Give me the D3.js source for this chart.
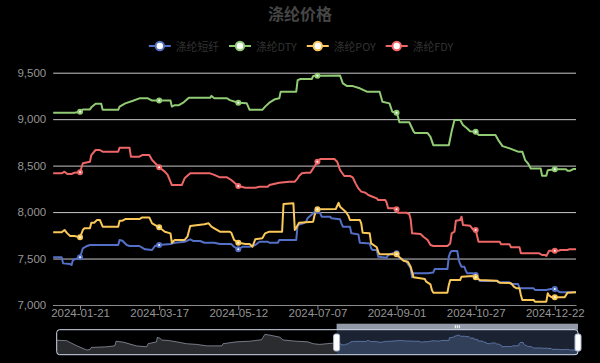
<!DOCTYPE html>
<html>
<head>
<meta charset="utf-8">
<script src="https://cdn.jsdelivr.net/npm/d3@7"></script>
<style>
  body { margin: 0; background: #000; }
  svg { display: block; font-family: "Noto Sans CJK SC", "Noto Sans", sans-serif; }
</style>
</head>
<body>
<svg id="chart" width="600" height="363"></svg>
<script>
// series names and colours, in drawing order
var seriesNames = ["涤纶短纤", "涤纶DTY", "涤纶POY", "涤纶FDY"];
var seriesColors = ["#5470c6", "#91cc75", "#fac858", "#ee6666"];

var xTickLabels = ["2024-01-21", "2024-03-17", "2024-05-12", "2024-07-07", "2024-09-01", "2024-10-27", "2024-12-22"];
var yTicks = [7000, 7500, 8000, 8500, 9000, 9500];

// 涤纶短纤 — price change points [date, price]
var psfPrices = [
  ["2024-01-02", 7513], ["2024-01-08", 7513], ["2024-01-09", 7448], ["2024-01-14", 7441], ["2024-01-15", 7430],
  ["2024-01-16", 7484], ["2024-01-19", 7502], ["2024-01-21", 7513], ["2024-01-23", 7610], ["2024-01-26", 7635],
  ["2024-01-28", 7646], ["2024-02-17", 7646], ["2024-02-18", 7700], ["2024-02-20", 7692], ["2024-02-23", 7646],
  ["2024-02-25", 7635], ["2024-03-03", 7635], ["2024-03-07", 7599], ["2024-03-12", 7592], ["2024-03-14", 7635],
  ["2024-03-17", 7646], ["2024-03-25", 7656], ["2024-03-28", 7670], ["2024-04-04", 7681], ["2024-04-08", 7707],
  ["2024-04-10", 7689], ["2024-04-15", 7689], ["2024-04-18", 7670], ["2024-04-25", 7670], ["2024-04-29", 7656],
  ["2024-05-07", 7656], ["2024-05-09", 7627], ["2024-05-12", 7599], ["2024-05-15", 7627], ["2024-05-20", 7627],
  ["2024-05-24", 7646], ["2024-05-27", 7681], ["2024-06-02", 7681], ["2024-06-03", 7670], ["2024-06-09", 7670],
  ["2024-06-10", 7700], ["2024-06-22", 7700], ["2024-06-23", 7861], ["2024-06-27", 7879], ["2024-06-29", 7897],
  ["2024-06-30", 7933], ["2024-07-04", 7987], ["2024-07-05", 8004], ["2024-07-07", 8015], ["2024-07-09", 7987],
  ["2024-07-10", 7950], ["2024-07-16", 7950], ["2024-07-17", 7933], ["2024-07-23", 7922], ["2024-07-24", 7879],
  ["2024-07-25", 7843], ["2024-07-30", 7843], ["2024-07-31", 7771], ["2024-08-05", 7760], ["2024-08-06", 7670],
  ["2024-08-13", 7663], ["2024-08-14", 7610], ["2024-08-15", 7592], ["2024-08-18", 7592], ["2024-08-19", 7520],
  ["2024-08-25", 7509], ["2024-08-26", 7538], ["2024-08-29", 7556], ["2024-09-01", 7556], ["2024-09-03", 7502],
  ["2024-09-06", 7484], ["2024-09-08", 7466], ["2024-09-11", 7395], ["2024-09-12", 7298], ["2024-09-13", 7341],
  ["2024-09-23", 7341], ["2024-09-27", 7350], ["2024-09-28", 7387], ["2024-10-07", 7387], ["2024-10-08", 7520],
  ["2024-10-09", 7563], ["2024-10-10", 7581], ["2024-10-14", 7581], ["2024-10-15", 7484], ["2024-10-16", 7441],
  ["2024-10-17", 7412], ["2024-10-19", 7412], ["2024-10-20", 7369], ["2024-10-21", 7341], ["2024-10-25", 7341],
  ["2024-10-27", 7323], ["2024-10-29", 7276], ["2024-10-30", 7258], ["2024-11-11", 7258], ["2024-11-12", 7244],
  ["2024-11-20", 7244], ["2024-11-21", 7226], ["2024-11-26", 7226], ["2024-11-27", 7180], ["2024-12-07", 7180],
  ["2024-12-08", 7162], ["2024-12-16", 7162], ["2024-12-19", 7172], ["2024-12-22", 7172], ["2024-12-25", 7143],
  ["2024-12-26", 7137], ["2025-01-06", 7137]
];

// 涤纶DTY
var dtyPrices = [
  ["2024-01-02", 9070], ["2024-01-17", 9070], ["2024-01-21", 9080], ["2024-01-23", 9105], ["2024-01-28", 9105],
  ["2024-01-29", 9127], ["2024-02-01", 9166], ["2024-02-05", 9166], ["2024-02-06", 9100], ["2024-02-17", 9100],
  ["2024-02-18", 9135], ["2024-02-22", 9170], ["2024-02-27", 9195], ["2024-03-03", 9224], ["2024-03-09", 9224],
  ["2024-03-12", 9200], ["2024-03-25", 9200], ["2024-03-26", 9135], ["2024-03-28", 9150], ["2024-03-31", 9150],
  ["2024-04-03", 9177], ["2024-04-07", 9230], ["2024-04-22", 9230], ["2024-04-23", 9250], ["2024-04-25", 9225],
  ["2024-05-04", 9225], ["2024-05-06", 9205], ["2024-05-12", 9177], ["2024-05-18", 9170], ["2024-05-20", 9100],
  ["2024-05-29", 9100], ["2024-05-31", 9135], ["2024-06-03", 9177], ["2024-06-07", 9215], ["2024-06-10", 9224],
  ["2024-06-11", 9296], ["2024-06-22", 9296], ["2024-06-23", 9420], ["2024-06-25", 9432], ["2024-07-03", 9432],
  ["2024-07-04", 9464], ["2024-07-07", 9467], ["2024-07-23", 9470], ["2024-07-25", 9385], ["2024-07-28", 9356],
  ["2024-08-01", 9356], ["2024-08-06", 9332], ["2024-08-11", 9296], ["2024-08-20", 9296], ["2024-08-22", 9188],
  ["2024-08-27", 9170], ["2024-08-29", 9080], ["2024-09-01", 9070], ["2024-09-02", 9026], ["2024-09-03", 8967],
  ["2024-09-10", 8967], ["2024-09-13", 8870], ["2024-09-14", 8850], ["2024-09-23", 8850], ["2024-09-25", 8810],
  ["2024-09-27", 8720], ["2024-10-08", 8720], ["2024-10-10", 8870], ["2024-10-12", 8990], ["2024-10-16", 8990],
  ["2024-10-18", 8937], ["2024-10-21", 8900], ["2024-10-23", 8870], ["2024-10-27", 8865], ["2024-10-29", 8830],
  ["2024-11-10", 8830], ["2024-11-12", 8775], ["2024-11-15", 8710], ["2024-11-20", 8686], ["2024-11-26", 8650],
  ["2024-11-29", 8650], ["2024-12-01", 8560], ["2024-12-03", 8525], ["2024-12-05", 8470], ["2024-12-12", 8470],
  ["2024-12-13", 8390], ["2024-12-16", 8390], ["2024-12-17", 8450], ["2024-12-22", 8460], ["2024-12-30", 8460],
  ["2024-12-31", 8445], ["2025-01-02", 8445], ["2025-01-04", 8463], ["2025-01-06", 8463]
];

// 涤纶POY
var poyPrices = [
  ["2024-01-02", 7782], ["2024-01-08", 7782], ["2024-01-10", 7807], ["2024-01-12", 7771], ["2024-01-14", 7742],
  ["2024-01-17", 7742], ["2024-01-21", 7728], ["2024-01-23", 7807], ["2024-01-24", 7825], ["2024-01-28", 7825],
  ["2024-01-29", 7886], ["2024-01-31", 7886], ["2024-02-02", 7915], ["2024-02-04", 7915], ["2024-02-06", 7843],
  ["2024-02-17", 7843], ["2024-02-18", 7907], ["2024-02-20", 7907], ["2024-02-22", 7925], ["2024-03-03", 7925],
  ["2024-03-05", 7943], ["2024-03-10", 7943], ["2024-03-12", 7879], ["2024-03-17", 7836], ["2024-03-21", 7789],
  ["2024-03-25", 7771], ["2024-03-26", 7670], ["2024-03-28", 7700], ["2024-04-04", 7700], ["2024-04-06", 7735],
  ["2024-04-08", 7850], ["2024-04-18", 7868], ["2024-04-21", 7879], ["2024-04-23", 7843], ["2024-04-25", 7825],
  ["2024-04-29", 7789], ["2024-05-06", 7789], ["2024-05-07", 7778], ["2024-05-09", 7700], ["2024-05-12", 7670],
  ["2024-05-17", 7656], ["2024-05-20", 7656], ["2024-05-22", 7627], ["2024-05-24", 7707], ["2024-05-29", 7718],
  ["2024-05-31", 7771], ["2024-06-03", 7789], ["2024-06-12", 7789], ["2024-06-13", 8087], ["2024-06-20", 8094],
  ["2024-06-21", 7807], ["2024-06-22", 7830], ["2024-06-24", 7886], ["2024-07-04", 7897], ["2024-07-05", 7968],
  ["2024-07-06", 8004], ["2024-07-07", 8030], ["2024-07-20", 8033], ["2024-07-22", 8100], ["2024-07-23", 8058],
  ["2024-07-25", 8030], ["2024-07-27", 8004], ["2024-07-29", 7958], ["2024-07-30", 7915], ["2024-08-06", 7915],
  ["2024-08-07", 7879], ["2024-08-08", 7778], ["2024-08-13", 7771], ["2024-08-14", 7663], ["2024-08-18", 7621],
  ["2024-08-19", 7574], ["2024-08-20", 7545], ["2024-09-01", 7545], ["2024-09-04", 7502], ["2024-09-06", 7477],
  ["2024-09-09", 7466], ["2024-09-11", 7412], ["2024-09-13", 7298], ["2024-09-21", 7280], ["2024-09-22", 7251],
  ["2024-09-25", 7222], ["2024-09-26", 7162], ["2024-09-27", 7133], ["2024-10-07", 7133], ["2024-10-08", 7215],
  ["2024-10-09", 7269], ["2024-10-16", 7269], ["2024-10-17", 7305], ["2024-10-25", 7312], ["2024-10-27", 7298],
  ["2024-10-30", 7269], ["2024-11-11", 7262], ["2024-11-13", 7240], ["2024-11-21", 7235], ["2024-11-23", 7197],
  ["2024-11-25", 7180], ["2024-11-27", 7180], ["2024-11-28", 7108], ["2024-11-29", 7054], ["2024-12-07", 7054],
  ["2024-12-08", 7036], ["2024-12-16", 7036], ["2024-12-17", 7126], ["2024-12-18", 7100], ["2024-12-20", 7083],
  ["2024-12-29", 7083], ["2024-12-31", 7133], ["2025-01-06", 7137]
];

// 涤纶FDY
var fdyPrices = [
  ["2024-01-02", 8417], ["2024-01-08", 8417], ["2024-01-10", 8435], ["2024-01-12", 8410], ["2024-01-15", 8410],
  ["2024-01-17", 8424], ["2024-01-21", 8428], ["2024-01-23", 8525], ["2024-01-28", 8542], ["2024-01-29", 8614],
  ["2024-02-01", 8668], ["2024-02-04", 8668], ["2024-02-06", 8650], ["2024-02-17", 8650], ["2024-02-18", 8693],
  ["2024-02-25", 8693], ["2024-02-26", 8596], ["2024-03-03", 8596], ["2024-03-05", 8614], ["2024-03-10", 8614],
  ["2024-03-12", 8560], ["2024-03-17", 8482], ["2024-03-21", 8435], ["2024-03-23", 8400], ["2024-03-26", 8291],
  ["2024-04-02", 8291], ["2024-04-04", 8363], ["2024-04-08", 8417], ["2024-04-22", 8417], ["2024-04-25", 8400],
  ["2024-04-29", 8374], ["2024-05-04", 8374], ["2024-05-07", 8345], ["2024-05-12", 8280], ["2024-05-17", 8262],
  ["2024-05-24", 8262], ["2024-05-27", 8273], ["2024-06-02", 8273], ["2024-06-03", 8291], ["2024-06-10", 8316],
  ["2024-06-17", 8327], ["2024-06-21", 8327], ["2024-06-23", 8363], ["2024-06-24", 8388], ["2024-06-26", 8417],
  ["2024-06-29", 8424], ["2024-07-02", 8424], ["2024-07-04", 8470], ["2024-07-07", 8542], ["2024-07-09", 8571],
  ["2024-07-19", 8571], ["2024-07-21", 8542], ["2024-07-23", 8453], ["2024-07-26", 8388], ["2024-07-30", 8388],
  ["2024-08-01", 8374], ["2024-08-03", 8309], ["2024-08-05", 8255], ["2024-08-07", 8220], ["2024-08-10", 8209],
  ["2024-08-12", 8184], ["2024-08-15", 8165], ["2024-08-18", 8148], ["2024-08-19", 8130], ["2024-08-24", 8130],
  ["2024-08-25", 8101], ["2024-08-26", 8040], ["2024-08-31", 8040], ["2024-09-01", 8030], ["2024-09-02", 7993],
  ["2024-09-08", 7993], ["2024-09-10", 7979], ["2024-09-11", 7920], ["2024-09-12", 7771], ["2024-09-18", 7764],
  ["2024-09-20", 7735], ["2024-09-23", 7700], ["2024-09-25", 7645], ["2024-09-27", 7635], ["2024-10-07", 7635],
  ["2024-10-09", 7663], ["2024-10-10", 7771], ["2024-10-12", 7789], ["2024-10-13", 7907], ["2024-10-16", 7915],
  ["2024-10-17", 7950], ["2024-10-18", 7861], ["2024-10-23", 7853], ["2024-10-25", 7815], ["2024-10-27", 7807],
  ["2024-10-29", 7681], ["2024-11-13", 7681], ["2024-11-14", 7653], ["2024-11-20", 7653], ["2024-11-21", 7621],
  ["2024-11-27", 7621], ["2024-11-28", 7556], ["2024-12-11", 7556], ["2024-12-13", 7538], ["2024-12-15", 7538],
  ["2024-12-16", 7527], ["2024-12-18", 7584], ["2024-12-25", 7584], ["2024-12-26", 7592], ["2024-12-31", 7592],
  ["2025-01-01", 7599], ["2025-01-06", 7599]
];

// earlier 涤纶短纤 history, only seen in the zoom slider shadow
var psfHistory = [
  ["2022-10-30", 7712], ["2022-11-14", 7690], ["2022-11-30", 7382], ["2022-12-15", 7140], ["2022-12-20", 7162],
  ["2022-12-22", 7289], ["2023-01-14", 7327], ["2023-01-27", 7382], ["2023-01-29", 7657], ["2023-02-09", 7602],
  ["2023-03-01", 7382], ["2023-03-17", 7327], ["2023-03-19", 7509], ["2023-04-01", 7618], ["2023-04-02", 7877],
  ["2023-04-06", 7838], ["2023-04-09", 7728], ["2023-04-21", 7690], ["2023-05-02", 7618], ["2023-05-17", 7509],
  ["2023-06-01", 7470], ["2023-06-17", 7382], ["2023-07-10", 7382], ["2023-07-12", 7509], ["2023-08-01", 7618],
  ["2023-08-22", 7657], ["2023-09-09", 7745], ["2023-09-14", 8058], ["2023-09-21", 8020], ["2023-10-07", 7893],
  ["2023-10-12", 7728], ["2023-11-01", 7657], ["2023-11-19", 7618], ["2023-11-27", 7509], ["2023-12-07", 7470],
  ["2023-12-27", 7540]
];

(function () {
  var parse = d3.timeParse("%Y-%m-%d");
  var fmt = d3.timeFormat("%Y-%m-%d");

  var toPoints = function (arr) {
    return arr.map(function (d) { return { date: parse(d[0]), value: d[1] }; });
  };
  var series = [psfPrices, dtyPrices, poyPrices, fdyPrices].map(toPoints);
  var histPts = toPoints(psfHistory);

  // value on the drawn line at a date
  function valueAt(pts, date) {
    var i = d3.bisector(function (d) { return d.date; }).left(pts, date);
    if (i <= 0) return pts[0].value;
    if (i >= pts.length) return pts[pts.length - 1].value;
    var a = pts[i - 1], b = pts[i];
    if (+b.date === +date) return b.value;
    var t = (date - a.date) / (b.date - a.date);
    return a.value + (b.value - a.value) * t;
  }

  var svg = d3.select("#chart");
  var plotLeft = 53.2, plotRight = 576, plotTop = 72.7, plotBottom = 305;

  var x = d3.scaleTime()
    .domain([series[0][0].date, series[0][series[0].length - 1].date])
    .range([plotLeft, plotRight]);
  var y = d3.scaleLinear().domain([7000, 9500]).range([plotBottom, plotTop]);

  // title
  svg.append("text")
    .attr("x", 300).attr("y", 13)
    .attr("text-anchor", "middle").attr("dominant-baseline", "central")
    .style("font-size", "16px").style("font-weight", "bold")
    .style("fill", "#464646")
    .text("涤纶价格");

  // y grid + labels
  var yAxis = svg.append("g")
    .attr("transform", "translate(" + plotLeft + ",0)")
    .call(d3.axisLeft(y).tickValues(yTicks).tickSize(-(plotRight - plotLeft)).tickPadding(7).tickFormat(d3.format(",")));
  yAxis.select(".domain").remove();
  yAxis.selectAll("line").attr("stroke", "#c8c8c8");
  yAxis.selectAll("text").style("font-size", "11.5px").style("fill", "#959595");

  // x axis
  var xTickDates = xTickLabels.map(parse);
  var xAxis = svg.append("g")
    .attr("transform", "translate(0," + plotBottom + ")")
    .call(d3.axisBottom(x).tickValues(xTickDates).tickSize(5).tickSizeOuter(0).tickFormat(fmt));
  xAxis.select(".domain").attr("stroke", "#8a8a8a");
  xAxis.selectAll("line").attr("stroke", "#8a8a8a");
  xAxis.selectAll("text").attr("y", 4).style("font-size", "11.5px").style("fill", "#959595");

  // lines
  var line = d3.line()
    .x(function (d) { return x(d.date); })
    .y(function (d) { return y(d.value); });

  series.forEach(function (pts, i) {
    svg.append("path")
      .datum(pts)
      .attr("fill", "none")
      .attr("stroke", seriesColors[i])
      .attr("stroke-width", 2)
      .attr("stroke-linejoin", "round")
      .attr("d", line);
  });

  // symbols at the labelled dates
  series.forEach(function (pts, i) {
    svg.append("g").selectAll("circle")
      .data(xTickDates).enter()
      .append("circle")
      .attr("cx", function (d) { return x(d); })
      .attr("cy", function (d) { return y(valueAt(pts, d)); })
      .attr("r", 2)
      .attr("fill", "#fff")
      .attr("stroke", seriesColors[i])
      .attr("stroke-width", 2);
  });

  // legend
  var legend = svg.append("g");
  var lx = 0;
  seriesNames.forEach(function (name, i) {
    var g = legend.append("g").attr("transform", "translate(" + lx + ",0)");
    g.append("line").attr("x1", 0).attr("x2", 22).attr("y1", 0).attr("y2", 0)
      .attr("stroke", seriesColors[i]).attr("stroke-width", 2);
    g.append("circle").attr("cx", 11).attr("cy", 0).attr("r", 4.2)
      .attr("fill", "#fff").attr("stroke", seriesColors[i]).attr("stroke-width", 2);
    var t = g.append("text").attr("x", 27).attr("y", 0)
      .attr("dominant-baseline", "central")
      .style("font-size", "10.8px").style("fill", "#333")
      .text(name);
    lx += 27 + t.node().getComputedTextLength() + 10;
  });
  lx -= 10;
  legend.attr("transform", "translate(" + (301 - lx / 2) + ",46)");

  // zoom slider with data shadow
  var sLeft = 56.7, sRight = 578, sTop = 329.7, sBottom = 354.7;
  var shadow = histPts.concat(series[0]);
  var xs = d3.scaleTime()
    .domain([shadow[0].date, shadow[shadow.length - 1].date])
    .range([sLeft, sRight]);
  var ext = d3.extent(shadow, function (d) { return d.value; });
  var pad = (ext[1] - ext[0]) * 0.3;
  var ys = d3.scaleLinear().domain([ext[0] - pad, ext[1] + pad]).range([sBottom, sTop]);

  var winStart = xs(series[0][0].date), winEnd = xs(series[0][series[0].length - 1].date);

  var area = d3.area()
    .x(function (d) { return xs(d.date); })
    .y0(sBottom)
    .y1(function (d) { return ys(d.value); });
  var shadowLine = d3.line()
    .x(function (d) { return xs(d.date); })
    .y(function (d) { return ys(d.value); });

  var defs = svg.append("defs");
  defs.append("clipPath").attr("id", "clip-out")
    .append("rect").attr("x", sLeft).attr("y", sTop).attr("width", winStart - sLeft).attr("height", sBottom - sTop);
  defs.append("clipPath").attr("id", "clip-in")
    .append("rect").attr("x", winStart).attr("y", sTop).attr("width", winEnd - winStart).attr("height", sBottom - sTop);

  var slider = svg.append("g");
  slider.append("path").datum(shadow).attr("clip-path", "url(#clip-out)")
    .attr("d", area).attr("fill", "#d2dbee").attr("fill-opacity", 0.2);
  slider.append("path").datum(shadow).attr("clip-path", "url(#clip-out)")
    .attr("d", shadowLine).attr("fill", "none").attr("stroke", "#d2dbee").attr("stroke-width", 0.5);

  slider.append("rect")
    .attr("x", winStart).attr("y", sTop).attr("width", winEnd - winStart).attr("height", sBottom - sTop)
    .attr("fill", "rgba(135,175,255,0.2)");
  slider.append("path").datum(shadow).attr("clip-path", "url(#clip-in)")
    .attr("d", area).attr("fill", "#8fb0f7").attr("fill-opacity", 0.2);
  slider.append("path").datum(shadow).attr("clip-path", "url(#clip-in)")
    .attr("d", shadowLine).attr("fill", "none").attr("stroke", "#8fb0f7").attr("stroke-width", 0.5);

  slider.append("rect")
    .attr("x", sLeft).attr("y", sTop).attr("width", sRight - sLeft).attr("height", sBottom - sTop)
    .attr("rx", 3).attr("fill", "none").attr("stroke", "#d2dbee").attr("stroke-width", 1);

  // move band on top of the window
  slider.append("rect")
    .attr("x", winStart).attr("y", sTop - 6).attr("width", winEnd - winStart).attr("height", 6)
    .attr("fill", "#d2dbee").attr("fill-opacity", 0.7);
  [-2, 0, 2].forEach(function (o) {
    slider.append("rect")
      .attr("x", (winStart + winEnd) / 2 + o - 0.5).attr("y", sTop - 4.5)
      .attr("width", 1).attr("height", 3).attr("fill", "#fff");
  });

  // handles
  [winStart, winEnd].forEach(function (hx) {
    slider.append("rect")
      .attr("x", hx - 3).attr("y", 334).attr("width", 6).attr("height", 17)
      .attr("rx", 2).attr("fill", "#fff").attr("stroke", "#acb8d1").attr("stroke-width", 1);
  });
})();
</script>
</body>
</html>
